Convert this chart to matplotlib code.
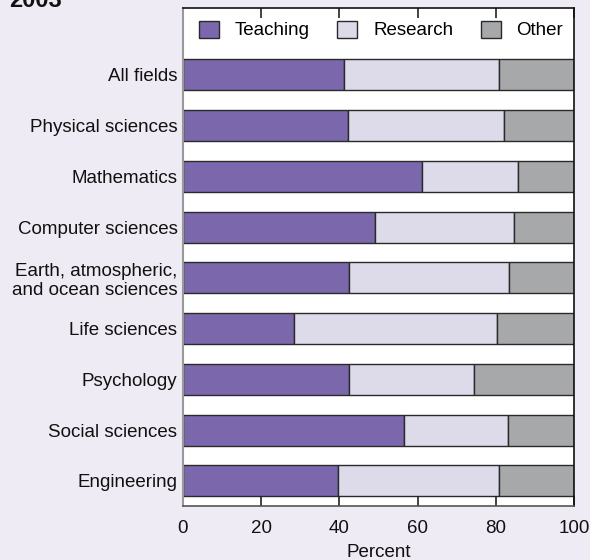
import matplotlib
matplotlib.use("Agg")
import matplotlib.pyplot as plt
import numpy as np

plt.rcParams['font.family'] = ['Liberation Sans', 'DejaVu Sans']

fields = ["All fields", "Physical sciences", "Mathematics", "Computer sciences",
          "Earth, atmospheric,\nand ocean sciences", "Life sciences", "Psychology",
          "Social sciences", "Engineering"]
teaching = [41.1, 42.3, 61.0, 49.0, 42.5, 28.5, 42.5, 56.4, 39.6]
research = [39.8, 39.8, 24.8, 35.7, 40.8, 51.9, 31.8, 26.8, 41.1]
other = [19.1, 17.9, 14.2, 15.3, 16.7, 19.6, 25.7, 16.8, 19.3]
series_names = ["Teaching", "Research", "Other"]
xticks = [0, 20, 40, 60, 80, 100]

colors = ["#7B67AC", "#DDDAEA", "#A7A8AA"]
bg = "#EEEBF4"
FS = 13.5

fig = plt.figure(figsize=(5.9, 5.6), dpi=100, facecolor=bg)
ax = fig.add_axes([183/590, 1-505.7/560, (574-183)/590, (505.7-8.3)/560])
ax.set_facecolor("white")

y = np.arange(len(fields))
left = np.zeros(len(fields))
handles = []
for vals, c, name in zip([teaching, research, other], colors, series_names):
    h = ax.barh(y, vals, left=left, height=0.61, color=c, edgecolor="#2a2a2a",
                linewidth=1.0, label=name)
    handles.append(h)
    left = left + np.array(vals)

ax.set_xlim(0, 100)
ax.set_ylim(8.49, -1.31)
ax.set_yticks(y)
ax.set_yticklabels(fields, fontsize=FS, color="#111111")
ax.tick_params(axis='y', length=0, pad=4)
ax.set_xticks(xticks)
ax.set_xticklabels([str(t) for t in xticks], fontsize=FS, color="#111111")
ax.tick_params(axis='x', direction='in', length=7, width=1.2, top=True, bottom=True,
               color="#222222", pad=10.3)
ax.set_xlabel("Percent", fontsize=FS, labelpad=5.2, color="#111111")

ax.spines['left'].set_color("#999999")
ax.spines['left'].set_linewidth(1.5)
ax.spines['right'].set_color("#111111")
ax.spines['top'].set_color("#111111")
ax.spines['bottom'].set_color("#555555")
for s in ['right', 'top', 'bottom']:
    ax.spines[s].set_linewidth(1.2)

leg = ax.legend(handles=handles, labels=series_names, ncol=3, frameon=False,
                fontsize=FS, handlelength=1.07, handleheight=1.02, handletextpad=0.85,
                columnspacing=1.45, borderpad=0, borderaxespad=0,
                loc='center left', bbox_to_anchor=(199/590, 1-30/560),
                bbox_transform=fig.transFigure)

fig.text(9/590, 1-7/560, "2003", fontsize=17, fontweight='bold', ha='left',
         va='baseline', color="#111111")

fig.savefig("out.png", dpi=100, facecolor=bg)
